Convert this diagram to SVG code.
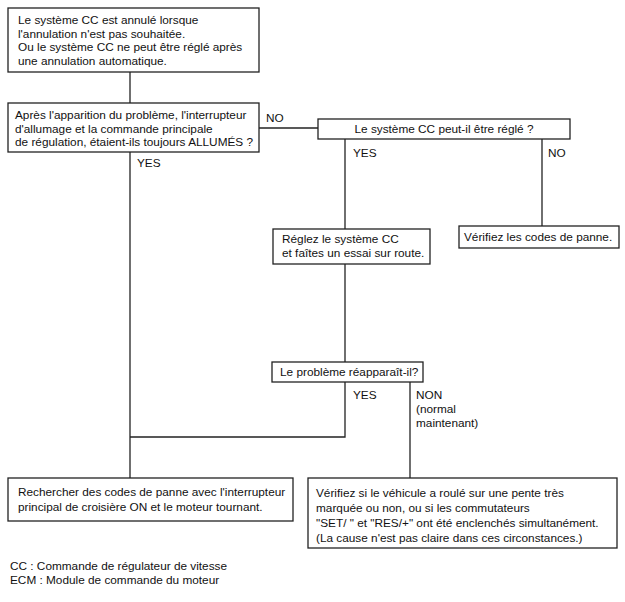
<svg xmlns="http://www.w3.org/2000/svg" width="625" height="602" viewBox="0 0 625 602">
<style>
rect{fill:#fff;stroke:#222;stroke-width:1.3}
.c line,.c polyline{stroke:#222;stroke-width:1.3;fill:none}
text{font-family:"Liberation Sans",Arial,sans-serif;font-size:11.8px;fill:#111}
</style>
<rect x="0" y="0" width="625" height="602" style="stroke:none"/>
<g class="c" id="connectors">
<line x1="130" y1="72" x2="130" y2="103"/>
<line x1="130" y1="152" x2="130" y2="478"/>
<line x1="259" y1="128" x2="318" y2="128"/>
<line x1="345" y1="139" x2="345" y2="229"/>
<line x1="542" y1="139" x2="542" y2="226"/>
<line x1="345" y1="264" x2="345" y2="362"/>
<polyline points="345,382 345,437 130,437"/>
<line x1="410" y1="382" x2="410" y2="478"/>
<text x="137" y="167">YES</text>
<text x="266" y="122">NO</text>
<text x="353" y="157">YES</text>
<text x="548" y="157">NO</text>
<text x="353" y="399">YES</text>
<text x="416" y="399">NON</text>
<text x="416" y="413">(normal</text>
<text x="416" y="427">maintenant)</text>
</g>
<g id="n1">
<rect x="8" y="8" width="251" height="64"/>
<text x="18" y="24">Le système CC est annulé lorsque</text>
<text x="18" y="37.5">l'annulation n'est pas souhaitée.</text>
<text x="18" y="51">Ou le système CC ne peut être réglé après</text>
<text x="18" y="64.5">une annulation automatique.</text>
</g>
<g id="n2">
<rect x="8" y="103" width="251" height="49"/>
<text x="15" y="119">Après l'apparition du problème, l'interrupteur</text>
<text x="15" y="132.5">d'allumage et la commande principale</text>
<text x="15" y="146">de régulation, étaient-ils toujours ALLUMÉS ?</text>
</g>
<g id="n3">
<rect x="318" y="119" width="252" height="20"/>
<text x="444" y="133" text-anchor="middle">Le système CC peut-il être réglé ?</text>
</g>
<g id="n4">
<rect x="273" y="229" width="157" height="35"/>
<text x="282" y="243">Réglez le système CC</text>
<text x="282" y="257">et faîtes un essai sur route.</text>
</g>
<g id="n5">
<rect x="459" y="226" width="160" height="22"/>
<text x="464" y="241">Vérifiez les codes de panne.</text>
</g>
<g id="n6">
<rect x="272" y="362" width="151" height="20"/>
<text x="280" y="376">Le problème réapparaît-il?</text>
</g>
<g id="n7">
<rect x="8" y="478" width="285" height="43"/>
<text x="18" y="496">Rechercher des codes de panne avec l'interrupteur</text>
<text x="18" y="511">principal de croisière ON et le moteur tournant.</text>
</g>
<g id="n8">
<rect x="308" y="478" width="309" height="70"/>
<text x="316" y="497">Vérifiez si le véhicule a roulé sur une pente très</text>
<text x="316" y="512">marquée ou non, ou si les commutateurs</text>
<text x="316" y="527">"SET/ " et "RES/+" ont été enclenchés simultanément.</text>
<text x="316" y="542">(La cause n'est pas claire dans ces circonstances.)</text>
</g>
<g id="legend">
<text x="10" y="570">CC : Commande de régulateur de vitesse</text>
<text x="10" y="584">ECM : Module de commande du moteur</text>
</g>
</svg>
